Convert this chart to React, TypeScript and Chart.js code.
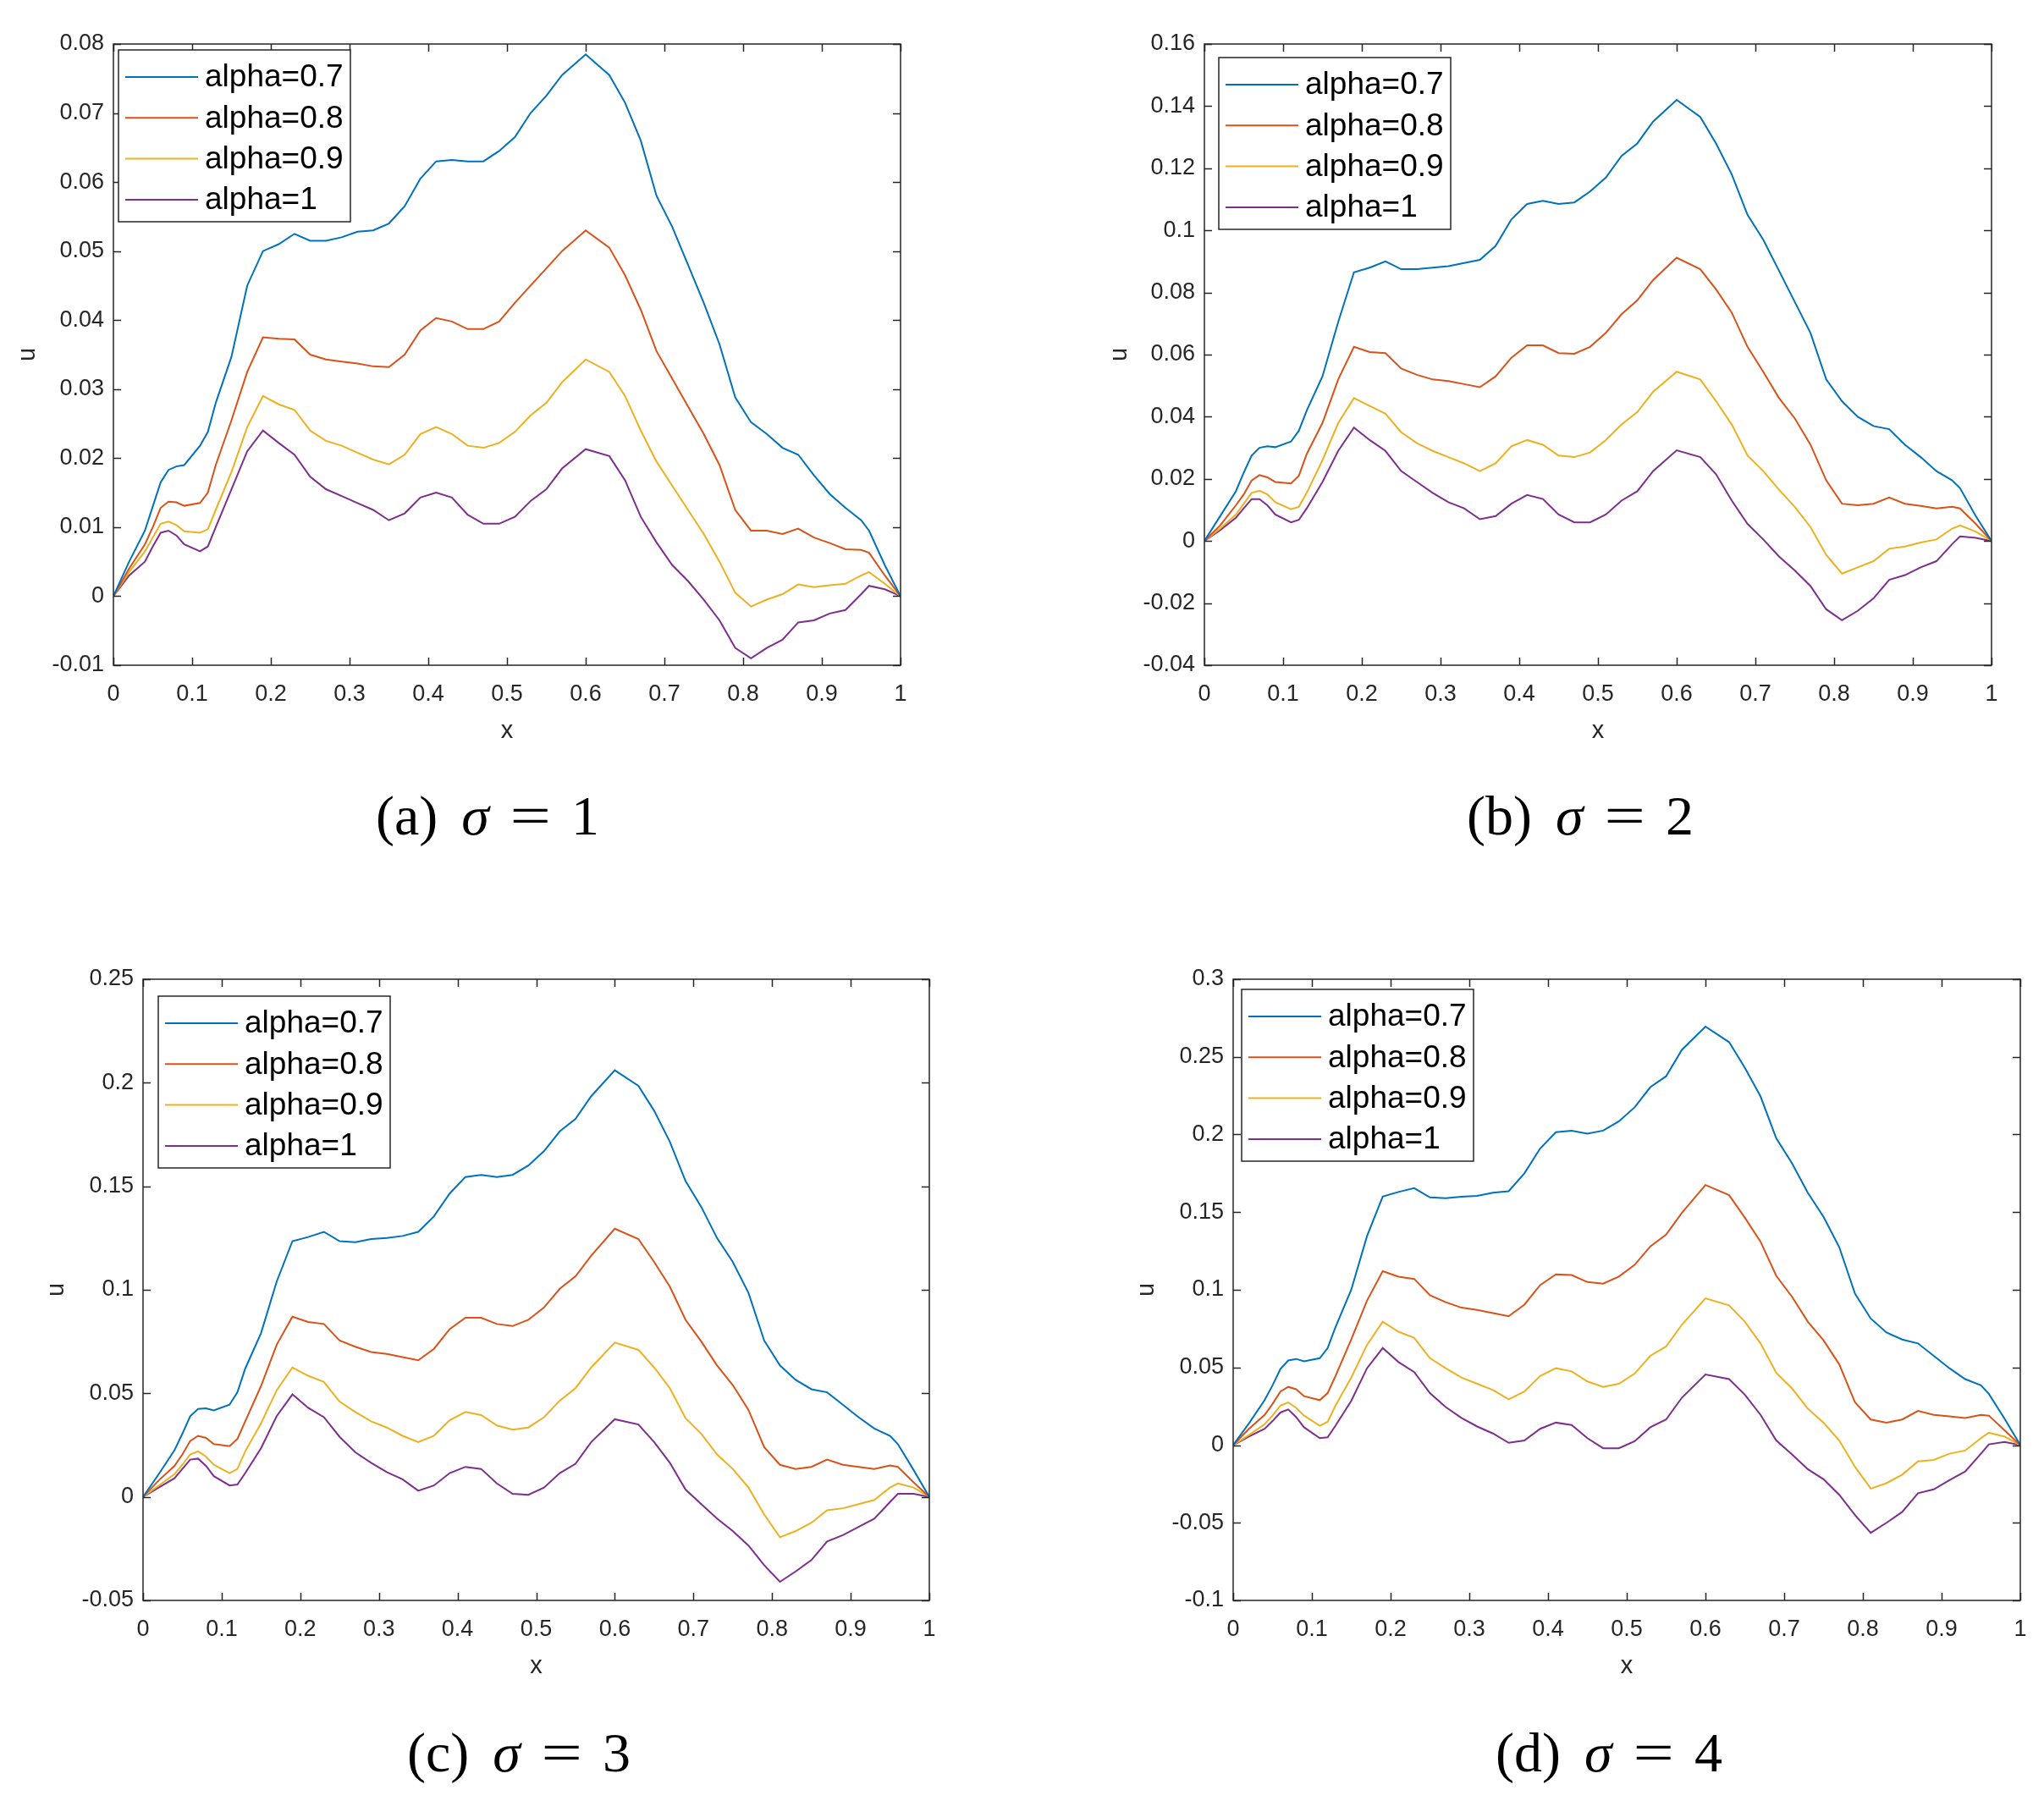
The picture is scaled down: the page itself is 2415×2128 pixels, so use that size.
import { useEffect, useRef } from "react";
import { Chart, registerables } from "chart.js";

Chart.register(...registerables);

// shared x grid (irregular, picked to catch the bumps)
const xs = [
  0, 0.02, 0.04, 0.05, 0.06, 0.07, 0.08, 0.09, 0.11, 0.12,
  0.13, 0.15, 0.17, 0.19, 0.21, 0.23, 0.25, 0.27, 0.29, 0.31,
  0.33, 0.35, 0.37, 0.39, 0.41, 0.43, 0.45, 0.47, 0.49, 0.51,
  0.53, 0.55, 0.57, 0.6, 0.63, 0.65, 0.67, 0.69, 0.71, 0.73,
  0.75, 0.77, 0.79, 0.81, 0.83, 0.85, 0.87, 0.89, 0.91, 0.93,
  0.95, 0.96, 0.98, 1,
];
const xTicks = [0, 0.1, 0.2, 0.3, 0.4, 0.5, 0.6, 0.7, 0.8, 0.9, 1];
const seriesLabels = ["alpha=0.7", "alpha=0.8", "alpha=0.9", "alpha=1"];

// (a) sigma = 1
const a07 = [
  0, 0.005, 0.0095, 0.013, 0.0165, 0.0183, 0.0188, 0.019, 0.0218, 0.0238,
  0.028, 0.0347, 0.045, 0.05, 0.051, 0.0525, 0.0515, 0.0515, 0.052, 0.0528,
  0.053, 0.054, 0.0565, 0.0605, 0.063, 0.0632, 0.063, 0.063, 0.0645, 0.0665,
  0.07, 0.0725, 0.0755, 0.0785, 0.0755, 0.0715, 0.066, 0.058, 0.0535, 0.048,
  0.0425, 0.0365, 0.0288, 0.0252, 0.0235, 0.0215, 0.0205, 0.0175, 0.0148, 0.0128,
  0.011, 0.0095, 0.0045, 0,
];
const a08 = [
  0, 0.004, 0.0075, 0.01, 0.0128, 0.0137, 0.0136, 0.0131, 0.0135, 0.015,
  0.019, 0.0255, 0.0325, 0.0375, 0.0373, 0.0372, 0.035, 0.0343, 0.034, 0.0337,
  0.0333, 0.0332, 0.035, 0.0385, 0.0403, 0.0398, 0.0387, 0.0387, 0.0398, 0.0425,
  0.045, 0.0475, 0.05, 0.053, 0.0505, 0.0465, 0.0415, 0.0355, 0.0315, 0.0275,
  0.0235, 0.019, 0.0125, 0.0095, 0.0095, 0.009, 0.0098, 0.0085, 0.0077, 0.0068,
  0.0067, 0.0063, 0.003, 0,
];
const a09 = [
  0, 0.0035, 0.0065, 0.0085, 0.0105, 0.0108, 0.0103, 0.0094, 0.0092, 0.0097,
  0.0125, 0.018, 0.0245, 0.029, 0.0278, 0.027, 0.024, 0.0225, 0.0218, 0.0208,
  0.0198, 0.0191, 0.0205, 0.0235, 0.0245, 0.0235, 0.0218, 0.0215, 0.0222, 0.0238,
  0.0262, 0.028, 0.031, 0.0343, 0.0325, 0.029, 0.024, 0.0195, 0.016, 0.0125,
  0.009, 0.005, 0.0005, -0.0015, -0.0005, 0.0003, 0.0017, 0.0013, 0.0016, 0.0018,
  0.003, 0.0035, 0.0018, 0,
];
const a10 = [
  0, 0.003, 0.005, 0.0072, 0.0092, 0.0095, 0.0088, 0.0075, 0.0065, 0.0072,
  0.01, 0.0155, 0.021, 0.024, 0.0222, 0.0205, 0.0173, 0.0155, 0.0145, 0.0135,
  0.0125, 0.011, 0.012, 0.0143, 0.015, 0.0143, 0.0118, 0.0105, 0.0105, 0.0115,
  0.0138, 0.0155, 0.0185, 0.0213, 0.0203, 0.0168, 0.0115, 0.0078, 0.0045, 0.0022,
  -0.0005, -0.0035, -0.0075, -0.009, -0.0075, -0.0063, -0.0038, -0.0035, -0.0025, -0.002,
  0.0003, 0.0015, 0.001, 0,
];
const aTicks = [-0.01, 0, 0.01, 0.02, 0.03, 0.04, 0.05, 0.06, 0.07, 0.08];

// (b) sigma = 2
const b07 = [
  0, 0.008, 0.016, 0.022, 0.0275, 0.03, 0.0305, 0.0302, 0.032, 0.0355,
  0.042, 0.053, 0.0705, 0.0865, 0.088, 0.09, 0.0875, 0.0875, 0.088, 0.0885,
  0.0895, 0.0905, 0.095, 0.1035, 0.1085, 0.1095, 0.1085, 0.109, 0.1125, 0.117,
  0.124, 0.128, 0.135, 0.142, 0.1365, 0.128, 0.118, 0.105, 0.097, 0.087,
  0.077, 0.067, 0.052, 0.045, 0.04, 0.037, 0.036, 0.031, 0.027, 0.0225,
  0.0195, 0.017, 0.008, 0,
];
const b08 = [
  0, 0.005, 0.0115, 0.015, 0.0195, 0.0212, 0.0205, 0.019, 0.0185, 0.021,
  0.028, 0.038, 0.052, 0.0625, 0.0608, 0.0605, 0.0555, 0.0535, 0.052, 0.0515,
  0.0505, 0.0495, 0.053, 0.059, 0.063, 0.063, 0.0605, 0.0603, 0.0625, 0.067,
  0.073, 0.0775, 0.084, 0.0912, 0.0875, 0.081, 0.0735, 0.0625, 0.0545, 0.046,
  0.0395, 0.031, 0.0195, 0.012, 0.0115, 0.012, 0.014, 0.012, 0.0113, 0.0105,
  0.011, 0.0105, 0.0055, 0,
];
const b09 = [
  0, 0.004, 0.0085, 0.012, 0.0155, 0.0162, 0.015, 0.0125, 0.0102, 0.011,
  0.0155, 0.026, 0.038, 0.046, 0.0435, 0.041, 0.035, 0.0315, 0.029, 0.027,
  0.025, 0.0225, 0.025, 0.0305, 0.0325, 0.031, 0.0275, 0.027, 0.0285, 0.0325,
  0.0375, 0.0415, 0.048, 0.0545, 0.052, 0.045, 0.0375, 0.0275, 0.0225, 0.0165,
  0.011, 0.0045, -0.0045, -0.0105, -0.0085, -0.0065, -0.0025, -0.0018, -0.0005, 0.0005,
  0.004, 0.005, 0.003, 0,
];
const b10 = [
  0, 0.0035, 0.0075, 0.0105, 0.0135, 0.0135, 0.0115, 0.0085, 0.006, 0.0068,
  0.0105, 0.019, 0.029, 0.0365, 0.0325, 0.029, 0.0225, 0.019, 0.0155, 0.0125,
  0.0105, 0.007, 0.008, 0.012, 0.0148, 0.0135, 0.0085, 0.006, 0.006, 0.0085,
  0.013, 0.016, 0.0225, 0.0292, 0.027, 0.0215, 0.013, 0.0055, 0.0005, -0.005,
  -0.0095, -0.0145, -0.022, -0.0255, -0.0225, -0.0185, -0.0125, -0.011, -0.0085, -0.0065,
  -0.001, 0.0015, 0.001, 0,
];
const bTicks = [-0.04, -0.02, 0, 0.02, 0.04, 0.06, 0.08, 0.1, 0.12, 0.14, 0.16];

// (c) sigma = 3
const c07 = [
  0, 0.011, 0.0225, 0.0305, 0.039, 0.0425, 0.0428, 0.0418, 0.0445, 0.0505,
  0.062, 0.079, 0.104, 0.1235, 0.1255, 0.128, 0.1235, 0.123, 0.1245, 0.125,
  0.126, 0.128, 0.1355, 0.1465, 0.1545, 0.1555, 0.1545, 0.1555, 0.16, 0.167,
  0.1765, 0.1825, 0.1935, 0.206, 0.1985, 0.1865, 0.1715, 0.1525, 0.14, 0.125,
  0.1135, 0.0985, 0.0755, 0.0635, 0.0565, 0.052, 0.0505, 0.0445, 0.0385, 0.033,
  0.0295, 0.0255, 0.013, 0,
];
const c08 = [
  0, 0.008, 0.015, 0.0205, 0.027, 0.0295, 0.0285, 0.0255, 0.0245, 0.028,
  0.0365, 0.0535, 0.0735, 0.087, 0.0845, 0.0835, 0.0755, 0.0725, 0.07, 0.069,
  0.0675, 0.066, 0.0715, 0.081, 0.0865, 0.0865, 0.0835, 0.0825, 0.0855, 0.0915,
  0.1005, 0.1065, 0.1165, 0.1295, 0.1245, 0.1135, 0.1015, 0.0855, 0.075, 0.0635,
  0.054, 0.042, 0.024, 0.0155, 0.0135, 0.0145, 0.018, 0.0155, 0.0145, 0.0135,
  0.0152, 0.0145, 0.007, 0,
];
const c09 = [
  0, 0.0055, 0.011, 0.0155, 0.0205, 0.022, 0.0195, 0.0155, 0.0115, 0.0135,
  0.022, 0.0355, 0.0515, 0.0625, 0.0585, 0.0555, 0.046, 0.041, 0.0365, 0.0335,
  0.0295, 0.0265, 0.0295, 0.037, 0.041, 0.0395, 0.0345, 0.0325, 0.0335, 0.0385,
  0.0465, 0.0525, 0.0625, 0.0745, 0.071, 0.0625, 0.0525, 0.038, 0.0305, 0.0205,
  0.0135, 0.0045, -0.0085, -0.0195, -0.0165, -0.0125, -0.0065, -0.0055, -0.0035, -0.0015,
  0.0045, 0.0065, 0.0045, 0,
];
const c10 = [
  0, 0.0045, 0.009, 0.0135, 0.018, 0.0185, 0.015, 0.01, 0.0055, 0.006,
  0.0115, 0.0235, 0.039, 0.0495, 0.043, 0.0385, 0.029, 0.0215, 0.0165, 0.012,
  0.0085, 0.003, 0.0055, 0.0115, 0.0145, 0.0135, 0.0065, 0.0015, 0.001, 0.0045,
  0.0115, 0.016, 0.0265, 0.0375, 0.035, 0.0265, 0.0165, 0.0035, -0.0035, -0.0105,
  -0.0165, -0.0235, -0.033, -0.041, -0.036, -0.0305, -0.0215, -0.0185, -0.0145, -0.0105,
  -0.0025, 0.0015, 0.0015, 0,
];
const cTicks = [-0.05, 0, 0.05, 0.1, 0.15, 0.2, 0.25];

// (d) sigma = 4
const d07 = [
  0, 0.014, 0.029, 0.0385, 0.049, 0.0545, 0.0555, 0.054, 0.056, 0.0625,
  0.076, 0.1, 0.1345, 0.16, 0.163, 0.1655, 0.1595, 0.159, 0.16, 0.1605,
  0.1625, 0.1635, 0.175, 0.191, 0.2015, 0.2025, 0.2005, 0.2025, 0.2085, 0.2175,
  0.2305, 0.2375, 0.2545, 0.2695, 0.2595, 0.243, 0.2245, 0.1975, 0.1815, 0.1625,
  0.147, 0.1275, 0.0975, 0.0815, 0.0725, 0.068, 0.0655, 0.0575, 0.0495, 0.0425,
  0.0385, 0.033, 0.017, 0,
];
const d08 = [
  0, 0.0105, 0.0195, 0.0265, 0.0345, 0.0375, 0.036, 0.0315, 0.029, 0.0335,
  0.0445, 0.068, 0.093, 0.112, 0.1085, 0.107, 0.0965, 0.092, 0.0885, 0.087,
  0.085, 0.083, 0.0905, 0.103, 0.11, 0.1095, 0.105, 0.104, 0.1085, 0.116,
  0.128, 0.1355, 0.1495, 0.1675, 0.161, 0.1465, 0.131, 0.109, 0.0955, 0.0795,
  0.0675, 0.052, 0.0275, 0.0165, 0.0145, 0.0165, 0.022, 0.0195, 0.0185, 0.0175,
  0.0195, 0.019, 0.0095, 0,
];
const d09 = [
  0, 0.0065, 0.0135, 0.019, 0.0255, 0.0275, 0.024, 0.019, 0.0125, 0.015,
  0.0255, 0.0435, 0.0645, 0.0795, 0.073, 0.069, 0.056, 0.0495, 0.0435, 0.0395,
  0.0355, 0.0295, 0.0345, 0.0445, 0.0495, 0.0475, 0.041, 0.0375, 0.0395, 0.046,
  0.0575, 0.0635, 0.0775, 0.0945, 0.09, 0.0795, 0.0655, 0.0465, 0.0365, 0.0235,
  0.0145, 0.003, -0.014, -0.028, -0.0245, -0.019, -0.0105, -0.0095, -0.0055, -0.0035,
  0.0045, 0.008, 0.0055, 0,
];
const d10 = [
  0, 0.0055, 0.0105, 0.0155, 0.021, 0.023, 0.018, 0.0115, 0.0045, 0.005,
  0.0125, 0.0285, 0.0495, 0.0625, 0.0535, 0.047, 0.0335, 0.0245, 0.0175, 0.012,
  0.0075, 0.0015, 0.003, 0.0105, 0.0145, 0.013, 0.0045, -0.002, -0.002, 0.0025,
  0.0115, 0.0165, 0.0305, 0.0455, 0.0425, 0.0325, 0.0195, 0.003, -0.006, -0.0155,
  -0.022, -0.032, -0.045, -0.0565, -0.05, -0.043, -0.031, -0.0285, -0.0225, -0.017,
  -0.0055, 0.0005, 0.002, 0,
];
const dTicks = [-0.1, -0.05, 0, 0.05, 0.1, 0.15, 0.2, 0.25, 0.3];

// matlab default line colours
const COLORS = ["#0072BD", "#D95319", "#EDB120", "#7E2F8E"];
const AXIS = "#262626";
const SANS = "'Liberation Sans', Arial, sans-serif";

interface Panel {
  tag: string;
  sigma: string;
  series: number[][];
  yTicks: number[];
  // canvas box on the page
  left: number; top: number; width: number; height: number;
  // plot area inside the canvas
  area: { l: number; t: number; r: number; b: number };
  uPad: number;   // y title offset
  xPad: number;   // x title offset from bottom
  legend: { dx: number; dy: number };
  cap: { x: number; y: number };
}

const panels: Panel[] = [
  {
    tag: "(a)", sigma: "1", series: [a07, a08, a09, a10], yTicks: aTicks,
    left: 0, top: 0, width: 1150, height: 900,
    area: { l: 134, t: 52, r: 1064, b: 786 },
    uPad: 16, xPad: 19, legend: { dx: 6, dy: 7 }, cap: { x: 576, y: 966 },
  },
  {
    tag: "(b)", sigma: "2", series: [b07, b08, b09, b10], yTicks: bTicks,
    left: 1250, top: 0, width: 1165, height: 900,
    area: { l: 173, t: 52, r: 1103, b: 786 },
    uPad: 56, xPad: 19, legend: { dx: 17, dy: 16 }, cap: { x: 1867, y: 966 },
  },
  {
    tag: "(c)", sigma: "3", series: [c07, c08, c09, c10], yTicks: cTicks,
    left: 0, top: 1100, width: 1150, height: 900,
    area: { l: 169, t: 57, r: 1098, b: 791 },
    uPad: 50, xPad: 14, legend: { dx: 18, dy: 20 }, cap: { x: 613, y: 2073 },
  },
  {
    tag: "(d)", sigma: "4", series: [d07, d08, d09, d10], yTicks: dTicks,
    left: 1280, top: 1100, width: 1135, height: 900,
    area: { l: 177, t: 57, r: 1107, b: 791 },
    uPad: 58, xPad: 14, legend: { dx: 10, dy: 12 }, cap: { x: 1901, y: 2073 },
  },
];

// matlab style box: full frame, inward ticks on all four sides, legend inside
const framePlugin = {
  id: "frame",
  afterDatasetsDraw(chart: any, _args: any, opts: any) {
    const { ctx, chartArea: a, scales } = chart;
    const tl = 9;
    ctx.save();
    ctx.strokeStyle = AXIS;
    ctx.lineWidth = 1.5;
    ctx.strokeRect(a.left, a.top, a.right - a.left, a.bottom - a.top);
    ctx.beginPath();
    for (const t of scales.x.ticks) {
      const px = Math.round(scales.x.getPixelForValue(t.value)) + 0.5;
      ctx.moveTo(px, a.bottom); ctx.lineTo(px, a.bottom - tl);
      ctx.moveTo(px, a.top); ctx.lineTo(px, a.top + tl);
    }
    for (const t of scales.y.ticks) {
      const py = Math.round(scales.y.getPixelForValue(t.value)) + 0.5;
      ctx.moveTo(a.left, py); ctx.lineTo(a.left + tl, py);
      ctx.moveTo(a.right, py); ctx.lineTo(a.right - tl, py);
    }
    ctx.stroke();

    // legend box
    const bx = a.left + opts.dx;
    const by = a.top + opts.dy;
    const bw = 274, bh = 203;
    ctx.fillStyle = "#fff";
    ctx.fillRect(bx, by, bw, bh);
    ctx.strokeStyle = AXIS;
    ctx.lineWidth = 1.5;
    ctx.strokeRect(bx, by, bw, bh);
    ctx.font = `37px ${SANS}`;
    ctx.textBaseline = "middle";
    ctx.textAlign = "left";
    chart.data.datasets.forEach((ds: any, i: number) => {
      const y = by + 32 + i * 48.3;
      ctx.strokeStyle = ds.borderColor;
      ctx.lineWidth = 2;
      ctx.beginPath();
      ctx.moveTo(bx + 8, y);
      ctx.lineTo(bx + 94, y);
      ctx.stroke();
      ctx.fillStyle = "#000";
      ctx.fillText(ds.label, bx + 102, y + 1);
    });
    ctx.restore();
  },
};

const fmt = (v: number) => String(Number(v.toFixed(3)));

function PanelChart({ p }: { p: Panel }) {
  const canvasRef = useRef<HTMLCanvasElement>(null);

  useEffect(() => {
    if (!canvasRef.current) return;
    const tickFont = { family: SANS, size: 27 };
    const titleFont = { family: SANS, size: 29 };
    const chart = new Chart(canvasRef.current, {
      type: "line",
      data: {
        datasets: p.series.map((s, i) => ({
          label: seriesLabels[i],
          data: s.map((y, j) => ({ x: xs[j], y })),
          borderColor: COLORS[i],
          backgroundColor: COLORS[i],
          borderWidth: 2,
          pointRadius: 0,
          tension: 0,
          fill: false,
        })),
      },
      options: {
        responsive: false,
        animation: false,
        devicePixelRatio: 1,
        events: [],
        layout: { padding: { top: p.area.t, right: p.width - p.area.r, left: 0, bottom: 0 } },
        plugins: {
          legend: { display: false },
          tooltip: { enabled: false },
          frame: p.legend,
        } as any,
        scales: {
          x: {
            type: "linear",
            min: 0,
            max: 1,
            afterBuildTicks: (s: any) => { s.ticks = xTicks.map((value) => ({ value })); },
            afterFit: (s: any) => { s.height = p.height - p.area.b; },
            grid: { display: false, drawTicks: false },
            border: { display: false },
            ticks: {
              padding: 18, color: AXIS, font: tickFont, maxRotation: 0, autoSkip: false,
              callback: (v: any) => fmt(Number(v)),
            },
            title: { display: true, text: "x", color: AXIS, font: titleFont, padding: { top: 0, bottom: p.xPad } },
          },
          y: {
            type: "linear",
            min: p.yTicks[0],
            max: p.yTicks[p.yTicks.length - 1],
            afterBuildTicks: (s: any) => { s.ticks = p.yTicks.map((value) => ({ value })); },
            afterFit: (s: any) => { s.width = p.area.l; },
            grid: { display: false, drawTicks: false },
            border: { display: false },
            ticks: {
              padding: 11, color: AXIS, font: tickFont, autoSkip: false,
              callback: (v: any) => fmt(Number(v)),
            },
            title: { display: true, text: "u", color: AXIS, font: titleFont, padding: { top: p.uPad, bottom: 0 } },
          },
        },
      },
      plugins: [framePlugin],
    } as any);
    return () => chart.destroy();
  }, [p]);

  return (
    <>
      <canvas
        ref={canvasRef}
        width={p.width}
        height={p.height}
        style={{ position: "absolute", left: p.left, top: p.top }}
      />
      <div
        style={{
          position: "absolute",
          left: p.cap.x - 250,
          top: p.cap.y - 35,
          width: 500,
          textAlign: "center",
          fontFamily: "'Liberation Serif', 'DejaVu Serif', serif",
          fontSize: 66,
          lineHeight: "66px",
          color: "#000",
          whiteSpace: "nowrap",
        }}
      >
        <span>{p.tag}</span>
        <span style={{ marginLeft: 28, fontStyle: "italic" }}>σ</span>
        <span style={{ margin: "0 30px", display: "inline-block", transform: "scaleX(1.3)" }}>=</span>
        <span>{p.sigma}</span>
      </div>
    </>
  );
}

export default function App() {
  return (
    <div
      style={{
        position: "absolute",
        left: 0,
        top: 0,
        width: 2415,
        height: 2128,
        background: "#fff",
        overflow: "hidden",
      }}
    >
      {panels.map((p) => (
        <PanelChart key={p.tag} p={p} />
      ))}
    </div>
  );
}
